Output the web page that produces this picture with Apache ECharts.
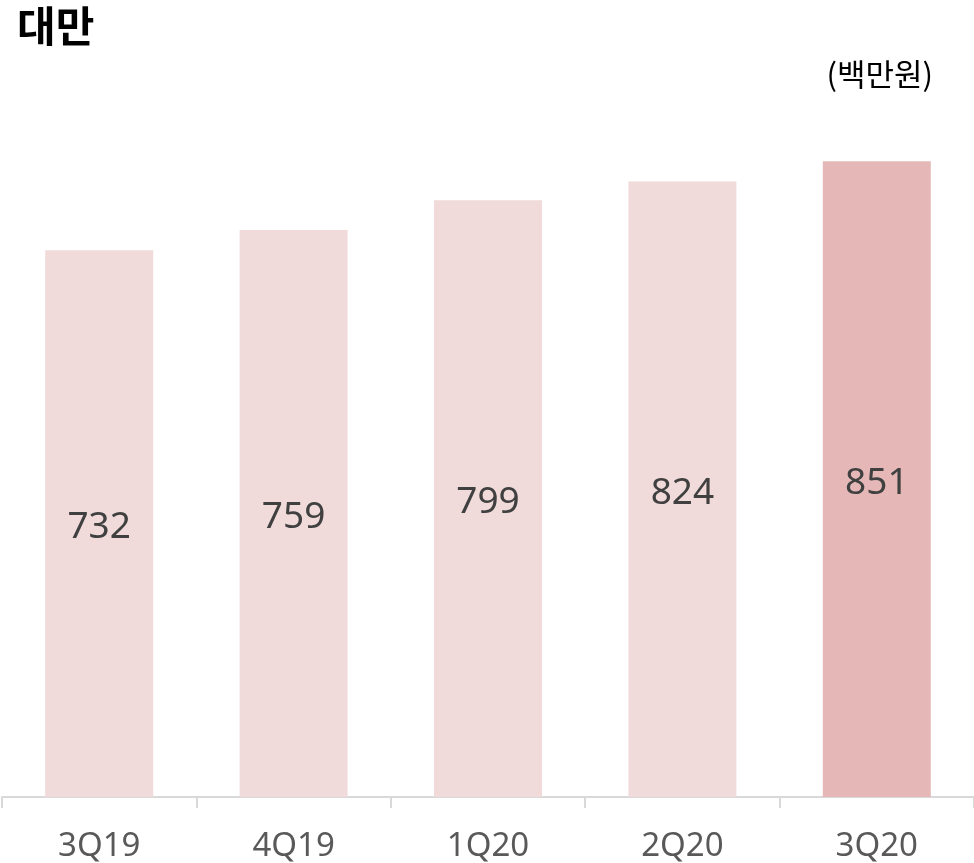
<!DOCTYPE html>
<html>
<head>
<meta charset="utf-8">
<script src="https://cdn.jsdelivr.net/npm/echarts@6/dist/echarts.min.js"></script>
<style>
html,body{margin:0;padding:0;background:#fff;}
#chart{width:974px;height:863px;}
</style>
</head>
<body>
<div id="chart"></div>
<script>
const categories = ['3Q19', '4Q19', '1Q20', '2Q20', '3Q20'];
const values = [732, 759, 799, 824, 851];
const barColors = ['#F0DADA', '#F0DADA', '#F0DADA', '#F0DADA', '#E5B8B7'];
const titleText = '대만';
const unitText = '(백만원)';

const chart = echarts.init(document.getElementById('chart'));
chart.setOption({
  animation: false,
  backgroundColor: '#ffffff',
  title: [
    { text: titleText, left: 12, top: 0,
      textStyle: { fontFamily: 'Noto Sans CJK KR', fontWeight: 'bold', fontSize: 42, color: '#000000' } },
    { text: unitText, right: 36, top: 54,
      textStyle: { fontFamily: 'Noto Sans CJK KR', fontWeight: 'normal', fontSize: 31, color: '#000000' } }
  ],
  grid: { left: 2, right: 0, top: 50, bottom: 66, containLabel: false },
  xAxis: {
    type: 'category',
    data: categories,
    axisLine: { lineStyle: { color: '#D9D9D9', width: 2 } },
    axisTick: { show: true, length: 11, lineStyle: { color: '#D9D9D9', width: 2 } },
    axisLabel: { color: '#595959', fontFamily: 'Noto Sans', fontSize: 33, margin: 33 }
  },
  yAxis: {
    type: 'value', min: 0, max: 1000,
    show: false, splitLine: { show: false }
  },
  series: [{
    type: 'bar',
    barWidth: 108,
    data: values.map((v, i) => ({ value: v, itemStyle: { color: barColors[i] } })),
    label: { show: true, position: 'inside', offset: [0, 4], color: '#404040', fontFamily: 'Noto Sans', fontSize: 37 }
  }]
});
</script>
</body>
</html>
